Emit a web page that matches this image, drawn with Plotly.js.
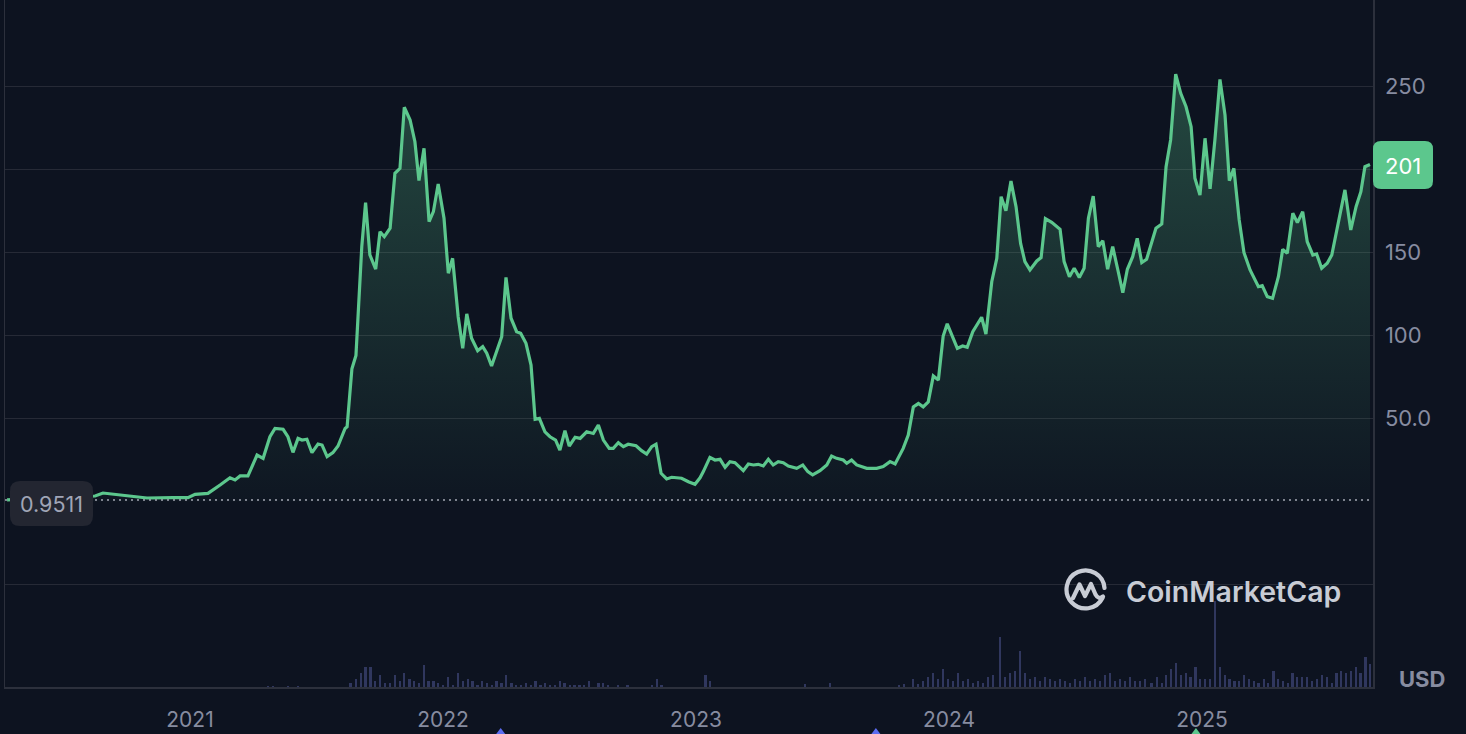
<!DOCTYPE html>
<html>
<head>
<meta charset="utf-8">
<script src="https://cdn.plot.ly/plotly-3.0.1.min.js"></script>
<style>
  html, body { margin: 0; padding: 0; background: #0d1320; }
  #chart { width: 1466px; height: 734px; }
</style>
</head>
<body>
<div id="chart"></div>
<script>
// ---- DATA (time in decimal years) ----
const priceT = [2020.277,2020.625,2020.656,2020.735,2020.830,2020.933,2020.992,2021.020,2021.071,2021.119,
2021.158,2021.178,2021.198,2021.229,2021.265,2021.289,2021.316,2021.336,2021.368,2021.387,
2021.407,2021.427,2021.443,2021.462,2021.482,2021.506,2021.522,2021.542,2021.565,2021.585,
2021.613,2021.621,2021.640,2021.656,2021.679,2021.694,2021.711,2021.734,2021.751,2021.768,
2021.791,2021.810,2021.830,2021.847,2021.870,2021.889,2021.905,2021.925,2021.945,2021.962,
2021.981,2022.004,2022.021,2022.038,2022.060,2022.078,2022.094,2022.113,2022.137,2022.157,
2022.173,2022.192,2022.232,2022.249,2022.269,2022.291,2022.307,2022.328,2022.348,2022.364,
2022.381,2022.403,2022.423,2022.445,2022.462,2022.482,2022.499,2022.522,2022.542,2022.568,
2022.594,2022.614,2022.634,2022.657,2022.673,2022.693,2022.713,2022.732,2022.763,2022.785,
2022.805,2022.825,2022.842,2022.862,2022.884,2022.904,2022.943,2022.970,2022.996,2023.016,
2023.029,2023.055,2023.075,2023.095,2023.115,2023.134,2023.154,2023.187,2023.207,2023.227,
2023.246,2023.266,2023.286,2023.305,2023.325,2023.345,2023.365,2023.398,2023.422,2023.442,
2023.461,2023.490,2023.517,2023.536,2023.556,2023.582,2023.596,2023.615,2023.635,2023.675,
2023.714,2023.740,2023.767,2023.787,2023.819,2023.839,2023.859,2023.879,2023.898,2023.918,
2023.938,2023.958,2023.977,2023.993,2024.011,2024.033,2024.054,2024.072,2024.094,2024.116,
2024.129,2024.146,2024.169,2024.189,2024.206,2024.225,2024.245,2024.265,2024.283,2024.300,
2024.320,2024.347,2024.364,2024.381,2024.406,2024.439,2024.455,2024.476,2024.495,2024.515,
2024.534,2024.551,2024.570,2024.590,2024.608,2024.627,2024.647,2024.669,2024.687,2024.705,
2024.726,2024.744,2024.762,2024.781,2024.818,2024.841,2024.858,2024.876,2024.896,2024.916,
2024.937,2024.957,2024.972,2024.992,2025.012,2025.032,2025.051,2025.071,2025.091,2025.108,
2025.126,2025.147,2025.166,2025.190,2025.223,2025.238,2025.258,2025.279,2025.302,2025.319,
2025.337,2025.359,2025.377,2025.398,2025.416,2025.438,2025.453,2025.473,2025.495,2025.513,
2025.533,2025.565,2025.588,2025.609,2025.628,2025.644,2025.664];

const priceV = [0.9511,3.3,5.1,3.9,2.1,2.3,2.3,4.3,4.9,9.9,
14.3,13,15.4,15.4,28,26,39,44,43.5,39,
29.6,38,37,37.5,29.4,34.6,34,27,29.4,33.4,
44,45,80,88,153.5,180,148.5,140,162.5,159.5,
164.6,197.7,200.7,237.5,229.8,216.7,193.3,212.8,168.6,174.6,
191.3,170.6,137.5,146.5,111.3,92.3,113,98.3,90.8,93.3,
89.3,81.6,99.3,135,110.4,102.3,101.3,95.3,82.2,49.5,
50.1,42,39,37,31,42.6,33.4,38.7,38,42,
41,46,37,32,32,35.4,33,34.5,33.6,30.6,
28.6,33,34.5,17,13.6,14.6,14,11.9,10.4,14.3,
18,26.6,25,25.4,20.6,24,23.4,18.6,22.6,22,
22.4,21.4,25.4,22,24,23.4,21.4,20,22,18,
16,18.6,22,27.4,26,25,23,25,22,20,
20,21,24,22.6,32,40,57,59,57,60,
75.6,73.2,99.7,107,100.3,92.3,93.7,92.9,102.3,108.3,
111,100.9,132.4,146.5,183.6,175.2,193,177.6,155.5,144.5,
139.5,144.9,146.9,170.4,168.2,164,144.5,135.4,140.5,135,
140.5,170.6,184,153.5,157.1,139.9,153.5,138.4,125.8,139.9,
147.5,158.5,143.9,145.9,164.6,167.2,201.7,217.8,257.5,245.9,
237.8,225.8,194.7,184.6,218.8,188.3,217.8,254.3,232.8,193.3,
200.7,169.6,149.9,139.5,129.4,130,123.4,122.4,135.4,151.9,
149.5,173.6,168,174.6,156.5,148.5,149.1,140.5,143.5,148.5,
163.6,187.7,163.6,177.6,186.6,201.7,203];

// relative trading volume (bar heights)
const volT = [2021.308,2021.328,2021.387,2021.427,
2021.635,2021.655,2021.675,2021.694,2021.714,2021.732,2021.751,2021.771,2021.791,2021.810,
2021.829,2021.847,2021.867,2021.885,2021.905,2021.925,2021.943,2021.963,2021.981,2022.001,
2022.020,2022.040,2022.059,2022.078,2022.098,2022.116,2022.136,2022.154,2022.174,2022.194,
2022.212,2022.232,2022.250,2022.270,2022.289,2022.308,2022.328,2022.347,2022.366,2022.385,
2022.404,2022.423,2022.443,2022.462,2022.481,2022.501,2022.519,2022.539,2022.557,2022.577,
2022.615,2022.633,2022.653,2022.692,2022.730,2022.826,2022.845,2022.864,2023.037,2023.055,
2023.431,2023.530,
2023.802,2023.822,2023.858,2023.877,2023.897,2023.917,2023.937,2023.957,2023.976,2023.996,
2024.016,2024.036,2024.055,2024.075,2024.095,2024.115,2024.134,2024.154,2024.174,2024.202,
2024.221,2024.241,2024.261,2024.281,2024.300,2024.320,2024.340,2024.360,2024.379,2024.399,
2024.419,2024.439,2024.458,2024.478,2024.498,2024.518,2024.538,2024.557,2024.577,2024.597,
2024.617,2024.636,2024.656,2024.676,2024.696,2024.715,2024.735,2024.755,2024.775,
2024.801,2024.821,2024.841,2024.858,2024.877,2024.897,2024.916,2024.936,2024.955,2024.975,
2024.993,2025.013,2025.032,2025.051,2025.071,2025.090,2025.108,2025.128,2025.146,2025.166,
2025.186,2025.206,2025.224,2025.244,2025.262,2025.282,2025.300,2025.320,2025.339,2025.358,
2025.376,2025.396,2025.416,2025.435,2025.455,2025.474,2025.493,2025.513,2025.531,2025.549,
2025.569,2025.589,2025.609,2025.627,2025.647,2025.665];

const volV = [1,1.5,1,1,
4,7.7,13.7,20,20,6,12,4,4,12,
6,14,8,6,4,22,6,6,4,2,
10,2,14,6,8,6,2,6,4,2,
6,4,12,4,2,2,4,2,6,2,
4,2,2,6,4,2,2,2,2,6,
4,4,2,2,2,2,8,2,12,6,
3,4,
2,3,8,3,6,10,14,8,18,8,
6,14,6,8,4,6,4,10,12,50,
10,14,16,36,14,8,10,6,10,8,
6,8,6,4,8,6,10,6,8,6,
12,14,6,8,6,10,6,6,8,
4,10,4,12,18,24,12,14,10,20,
8,8,8,86,20,12,8,6,6,12,
8,6,4,8,4,16,8,6,4,14,
10,10,10,6,8,12,10,4,14,16,
14,16,20,14,30,23];

const yearTicks = [2021, 2022, 2023, 2024, 2025];
const yearLabels = ['2021', '2022', '2023', '2024', '2025'];
const priceTicks = [-50, 50, 100, 150, 200, 250];
const priceTickText = ['', '50.0', '100', '150', '', '250'];
const startPrice = 0.9511;
const startLabel = '0.9511';
const lastLabel = '201';
const eventT = [2022.228, 2023.711, 2024.976];
const eventColors = ['#5b6cf0', '#5b6cf0', '#5cc78d'];

// ---- LAYOUT HELPERS (pixel -> paper) ----
const W = 1466, Hh = 734;
const M = {l: 5, r: 93, t: 0, b: 47};
const PW = W - M.l - M.r, PH = Hh - M.t - M.b;
const xRange = [2020.2688, 2025.6759];
const yRange = [-111.75, 302.1];
const px = x => (x - M.l) / PW;
const py = y => (M.t + PH - y) / PH;
function roundRect(x0, y0, x1, y1, r) {
  const P = (x, y) => px(x) + ',' + py(y);
  return 'M' + P(x0 + r, y0) + ' L' + P(x1 - r, y0) + ' Q' + P(x1, y0) + ' ' + P(x1, y0 + r) +
    ' L' + P(x1, y1 - r) + ' Q' + P(x1, y1) + ' ' + P(x1 - r, y1) +
    ' L' + P(x0 + r, y1) + ' Q' + P(x0, y1) + ' ' + P(x0, y1 - r) +
    ' L' + P(x0, y0 + r) + ' Q' + P(x0, y0) + ' ' + P(x0 + r, y0) + ' Z';
}
const tToPx = t => M.l + (t - xRange[0]) / (xRange[1] - xRange[0]) * PW;

const GREEN = '#5cc78d';
const TXT = '#878ca0';
const FONT = 'Inter, "Noto Sans", sans-serif';

const volTrace = {
  type: 'bar', x: volT, y: volV, yaxis: 'y2',
  marker: {color: '#30375e', line: {width: 0}},
  width: 0.0095, hoverinfo: 'skip'
};
const priceTrace = {
  type: 'scatter', mode: 'lines', x: priceT, y: priceV,
  line: {color: GREEN, width: 3.2, shape: 'linear'},
  fill: 'tozeroy',
  fillgradient: {
    type: 'vertical', start: 0, stop: 260,
    colorscale: [[0, 'rgba(92,199,141,0.02)'], [1, 'rgba(92,199,141,0.30)']]
  },
  hoverinfo: 'skip'
};

const shapes = [
  {type: 'line', xref: 'paper', x0: 0, x1: 1, yref: 'y', y0: startPrice, y1: startPrice,
   line: {color: '#a4a8b4', width: 1.5, dash: '2px,4px'}, layer: 'above'},
  {type: 'path', xref: 'paper', yref: 'paper', path: roundRect(10, 481, 93, 526, 10),
   fillcolor: '#232631', line: {width: 0}, layer: 'above'},
  {type: 'path', xref: 'paper', yref: 'paper', path: roundRect(1373, 141, 1433, 189, 8),
   fillcolor: GREEN, line: {width: 0}, layer: 'above'}
];
eventT.forEach((t, i) => {
  const cx = tToPx(t);
  const P = (x, y) => px(x) + ',' + py(y);
  shapes.push({type: 'path', xref: 'paper', yref: 'paper',
    path: 'M' + P(cx, 728) + ' L' + P(cx + 9, 740) + ' L' + P(cx - 9, 740) + ' Z',
    fillcolor: eventColors[i], line: {width: 0}, layer: 'above'});
});

const logoSvg = '<svg xmlns="http://www.w3.org/2000/svg" width="48" height="46" viewBox="0 0 48 46">' +
  '<path d="M40.5 31 A19 19 0 1 1 42.5 21" fill="none" stroke="#c8ccd5" stroke-width="4.2" stroke-linecap="round"/>' +
  '<path d="M11 31 L17.5 17.5 L23 29 L29 17 L33.5 27.5 Q36.5 33 41 29.5" fill="none" stroke="#c8ccd5" stroke-width="4.2" stroke-linecap="round" stroke-linejoin="round"/>' +
  '</svg>';

const layout = {
  width: W, height: Hh,
  margin: M,
  paper_bgcolor: '#0d1320', plot_bgcolor: '#0d1320',
  showlegend: false, hovermode: false, bargap: 0,
  font: {family: FONT, color: TXT, size: 20},
  xaxis: {
    type: 'linear', range: xRange, tickmode: 'array', tickvals: yearTicks, ticktext: yearLabels,
    showgrid: false, zeroline: false, showline: true, linecolor: '#2c303c', linewidth: 1.5,
    ticks: '', ticklabelstandoff: 13, tickfont: {family: FONT, size: 21, color: TXT}, fixedrange: true
  },
  yaxis: {
    side: 'right', range: yRange, tickmode: 'array', tickvals: priceTicks, ticktext: priceTickText,
    showgrid: true, gridcolor: '#262a36', gridwidth: 1.5, zeroline: false,
    showline: true, mirror: true, linecolor: '#2c303c', linewidth: 1.5,
    ticks: '', ticklabelstandoff: 6, tickfont: {family: FONT, size: 22, color: TXT}, fixedrange: true
  },
  yaxis2: {overlaying: 'y', range: [0, PH], visible: false, fixedrange: true},
  shapes: shapes,
  images: [{
    source: 'data:image/svg+xml;base64,' + btoa(logoSvg),
    xref: 'paper', yref: 'paper', x: px(1062), y: py(567),
    sizex: 48 / PW, sizey: 46 / PH, xanchor: 'left', yanchor: 'top', sizing: 'stretch', layer: 'above'
  }],
  annotations: [
    {xref: 'paper', yref: 'paper', x: px(51), y: py(504), text: startLabel, showarrow: false,
     xanchor: 'center', yanchor: 'middle', font: {family: FONT, size: 21.5, color: '#a0a5b6'}},
    {xref: 'paper', yref: 'paper', x: px(1403), y: py(166), text: lastLabel, showarrow: false,
     xanchor: 'center', yanchor: 'middle', font: {family: FONT, size: 22, color: '#ffffff'}},
    {xref: 'paper', yref: 'paper', x: px(1422), y: py(679), text: '<b>USD</b>', showarrow: false,
     xanchor: 'center', yanchor: 'middle', font: {family: FONT, size: 22, color: TXT}},
    {xref: 'paper', yref: 'paper', x: px(1124), y: py(591), text: 'CoinMarketCap', showarrow: false,
     xanchor: 'left', yanchor: 'middle', font: {family: FONT, size: 28.5, color: '#c8ccd5', weight: 600}}
  ]
};

Plotly.newPlot('chart', [volTrace, priceTrace], layout, {displayModeBar: false, staticPlot: true});
</script>
</body>
</html>
